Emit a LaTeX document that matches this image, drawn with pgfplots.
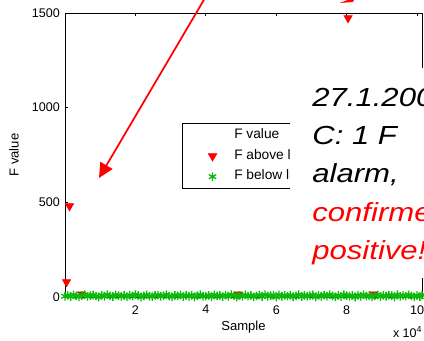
\documentclass[border=0pt]{standalone}
\usepackage{fontspec}
\setmainfont{Liberation Sans}
\usepackage{pgfplots}
\pgfplotsset{compat=1.18}
\usetikzlibrary{arrows.meta}

\definecolor{mred}{RGB}{255,0,0}
\definecolor{mgreen}{RGB}{10,185,10}

\begin{document}
\begin{tikzpicture}
\useasboundingbox (0,0) rectangle (318pt,255.75pt);
\clip (0,0) rectangle (318pt,255.75pt);
\begin{axis}[
  at={(48.75pt,33pt)}, anchor=south west,
  scale only axis, width=267.75pt, height=213pt,
  xmin=0, xmax=101400, ymin=0, ymax=1500,
  clip=false,
  axis line style={line width=0.6pt},
  tick style={line width=0.6pt, black},
  tick align=inside, major tick length=2.6pt,
  xtick pos=both, ytick pos=both,
  xtick={20000,40000,60000,80000,100000},
  xticklabels={2,4,6,8,10},
  scaled x ticks=false,
  ytick={0,500,1000,1500},
  yticklabels={0,500,1000,1500},
  /pgf/number format/assume math mode=true,
  ticklabel style={font=\fontsize{9.4}{11}\selectfont},
  xticklabel style={anchor=north, inner sep=0pt, yshift=-6pt},
  yticklabel style={anchor=east, inner sep=0pt, xshift=-3.75pt},
  xlabel={Sample}, ylabel={F value},
  every axis x label/.style={at={(axis description cs:0.5,-0.1046)}, anchor=center, font=\fontsize{9.8}{11}\selectfont},
  every axis y label/.style={at={(axis description cs:-0.1429,0.5)}, anchor=center, rotate=90, font=\fontsize{9.8}{11}\selectfont},
  legend style={at={(0.327,0.6116)}, anchor=north west, draw=black, line width=0.6pt,
    font=\fontsize{10.3}{12}\selectfont, inner xsep=7.5pt, inner ysep=4.2pt,
    row sep=6pt, column sep=1pt,
    nodes={inner sep=0pt, text height=7pt, text depth=2.4pt}},
  legend cell align=left,
  legend image code/.code={\draw[mark repeat=2,mark phase=2,#1] plot coordinates {(0pt,0pt) (15pt,0pt) (30pt,0pt)};},
]
% F value trace (drawn in white)
\addplot[white, line width=0.6pt] coordinates {(0,5) (25000,6) (50000,5) (75000,7) (101400,5)};
\addlegendentry{F value}

% samples flagged above the limit
\addplot[only marks, color=mred, mark=triangle*, mark size=3.6pt,
  mark options={rotate=180, fill=mred, draw=mred}] coordinates {
  (430,79) (1280,480) (4700,14) (49200,14) (87800,14) (80400,1473)};
\addlegendentry{F above limit}

% samples below the limit
\addplot[only marks, color=mgreen, mark=asterisk, mark size=3.2pt, line width=1pt] coordinates {
(0,4)(800,9)(1600,2)(2400,11)(3200,6)(4000,1)(4800,8)(5600,12)
(6400,3)(7200,7)(8000,10)(8800,5)(9600,0)(10400,9)(11200,4)(12000,12)
(12800,6)(13600,2)(14400,11)(15200,7)(16000,3)(16800,8)(17600,1)(18400,10)
(19200,5)(20000,12)(20800,9)(21600,0)(22400,6)(23200,11)(24000,4)(24800,2)
(25600,8)(26400,10)(27200,3)(28000,7)(28800,12)(29600,5)(30400,1)(31200,9)
(32000,6)(32800,11)(33600,2)(34400,8)(35200,4)(36000,10)(36800,0)(37600,7)
(38400,12)(39200,3)(40000,5)(40800,9)(41600,1)(42400,11)(43200,6)(44000,8)
(44800,2)(45600,10)(46400,4)(47200,12)(48000,7)(48800,0)(49600,9)(50400,3)
(51200,11)(52000,5)(52800,8)(53600,1)(54400,6)(55200,10)(56000,2)(56800,12)
(57600,4)(58400,7)(59200,9)(60000,0)(60800,11)(61600,3)(62400,8)(63200,5)
(64000,10)(64800,1)(65600,6)(66400,12)(67200,2)(68000,9)(68800,4)(69600,7)
(70400,11)(71200,0)(72000,8)(72800,3)(73600,10)(74400,5)(75200,12)(76000,6)
(76800,1)(77600,9)(78400,2)(79200,11)(80000,7)(80800,4)(81600,8)(82400,0)
(83200,10)(84000,3)(84800,12)(85600,5)(86400,9)(87200,1)(88000,6)(88800,11)
(89600,2)(90400,8)(91200,4)(92000,10)(92800,7)(93600,0)(94400,12)(95200,3)
(96000,9)(96800,5)(97600,11)(98400,6)(99200,1)(100000,8)(100800,2)(101400,10)
};
\addlegendentry{F below limit}
\end{axis}

% annotation layer, in pixel units measured from the top-left corner
\begin{scope}[yshift=255.75pt, x=0.75pt, y=-0.75pt]
  \fill[white] (290,68) rectangle (430,278);
  \begin{scope}[every node/.style={anchor=base west, inner sep=0pt, xscale=1.19,
      font=\fontsize{19.6}{23}\selectfont\itshape}]
    \node at (312,107) {27.1.2008};
    \node at (312,145) {C: 1 F};
    \node at (312,183) {alarm,};
    \node[text=mred] at (312,222) {confirmed};
    \node[text=mred] at (312,260) {positive!};
  \end{scope}
  \draw[mred, line width=1.3pt, -{Triangle[length=11pt, width=10.5pt]}] (205,-2) -- (99,178);
  \fill[mred] (339.5,3) -- (349,-0.5) -- (354,-0.5) -- (353,2) -- cycle;
  \node[anchor=base east, inner sep=0pt, font=\fontsize{9.4}{11}\selectfont] at (422.5,338) {x 10\textsuperscript{4}};
\end{scope}
\end{tikzpicture}
\end{document}
